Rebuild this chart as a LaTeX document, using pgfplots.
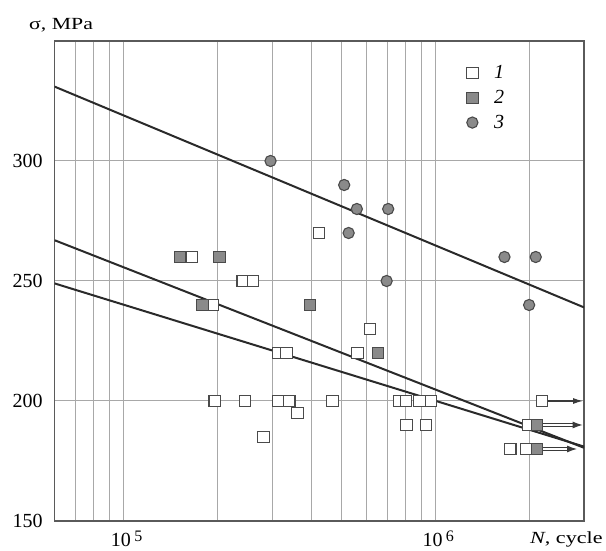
\documentclass[border=0pt]{standalone}
\usepackage{pgfplots}
\pgfplotsset{compat=1.18}
\usepackage{fontspec}
\setmainfont{Liberation Serif}
\usepackage{graphicx}
\usetikzlibrary{arrows.meta}
\definecolor{mk}{HTML}{8A8A8A}
\definecolor{mkedge}{HTML}{4A4A4A}
\definecolor{gridc}{HTML}{A8A8A8}
\definecolor{framec}{HTML}{5A5A5A}
\definecolor{linec}{HTML}{2A2A2A}
\definecolor{arrc}{HTML}{3A3A3A}

\begin{document}
\begin{tikzpicture}
\begin{axis}[
  xmode=log, scale only axis, width=529.5pt, height=480pt,
  xmin=6e4, xmax=3e6, ymin=150, ymax=350,
  axis line style={framec, line width=1.3pt},
  xtick={1e5,1e6},
  xticklabels={10\,\raisebox{4.5pt}{\fontsize{16}{16}\selectfont 5}, 10\,\raisebox{4.5pt}{\fontsize{16}{16}\selectfont 6}},
  minor xtick={7e4,8e4,9e4,2e5,3e5,4e5,5e5,6e5,7e5,8e5,9e5,2e6},
  ytick={150,200,250,300}, yticklabels={150,200,250,300},
  xmajorgrids, xminorgrids, ymajorgrids,
  major grid style={gridc, line width=1pt},
  minor grid style={gridc, line width=1pt},
  major tick length=0pt, minor tick length=0pt,
  tick label style={font=\fontsize{20}{22}\selectfont},
  yticklabel style={inner sep=0pt, xshift=-11.8pt},
  xticklabel style={inner sep=0pt, yshift=-10pt, xshift=3pt},
  legend style={at={(rel axis cs:0.778,0.953)}, anchor=north west, draw=none, fill=none,
    font=\fontsize{20}{22}\selectfont\itshape, row sep=6pt, inner sep=0pt,
    /tikz/every odd column/.append style={column sep=14pt}},
  legend cell align=left,
]
% regression lines
\addplot[linec, line width=2pt, forget plot] coordinates {(6e4,331) (3e6,239)};
\addplot[linec, line width=2pt, forget plot] coordinates {(6e4,267) (3e6,180.5)};
\addplot[linec, line width=2pt, forget plot] coordinates {(6e4,249) (3e6,181)};
% run-out arrows
\addplot[arrc, line width=1.3pt, -{Latex[length=10pt,width=6pt]}, forget plot] coordinates {(2.2e6,200) (2.98e6,200)};
\addplot[arrc, line width=1.1pt, double=white, double distance=2.4pt, -{Latex[length=10pt,width=7pt]}, forget plot] coordinates {(2.12e6,190) (2.97e6,190)};
\addplot[arrc, line width=1.1pt, double=white, double distance=2.4pt, -{Latex[length=10pt,width=7pt]}, forget plot] coordinates {(2.12e6,180) (2.85e6,180)};
% series 1
\addplot[only marks, mark=square*, mark size=5.7pt, mark options={fill=white, draw=mkedge, line width=1.1pt}] coordinates {
(1.65e5,260) (2.41e5,250) (2.60e5,250) (1.93e5,240) (3.13e5,220) (3.33e5,220)
(1.96e5,200) (2.45e5,200) (3.14e5,200) (3.40e5,200) (3.61e5,195) (2.81e5,185)
(4.24e5,270) (6.17e5,230) (5.63e5,220) (4.68e5,200) (7.65e5,200) (8.05e5,200)
(8.89e5,200) (9.68e5,200) (8.09e5,190) (9.33e5,190) (2.20e6,200) (1.98e6,190)
(1.74e6,180) (1.96e6,180)
};
\addlegendentry{1}
% series 2
\addplot[only marks, mark=square*, mark size=5.7pt, mark options={fill=mk, draw=mkedge, line width=1.1pt}] coordinates {
(1.52e5,260) (2.03e5,260) (1.79e5,240) (3.96e5,240) (6.56e5,220) (2.12e6,190) (2.12e6,180)
};
\addlegendentry{2}
% series 3
\addplot[only marks, mark=*, mark size=5.6pt, mark options={fill=mk, draw=mkedge, line width=1.1pt}] coordinates {
(2.96e5,300) (5.10e5,290) (5.60e5,280) (7.06e5,280) (5.27e5,270) (1.667e6,260)
(2.10e6,260) (6.98e5,250) (2.0e6,240)
};
\addlegendentry{3}
\end{axis}
\node[anchor=base west, inner sep=0pt] at ([xshift=-25.5pt,yshift=11pt]current axis.north west)
  {\scalebox{1.28}[1]{\fontsize{17}{17}\selectfont σ, MPa}};
\node[anchor=base west, inner sep=0pt] at ([xshift=-54pt,yshift=-23pt]current axis.south east)
  {\scalebox{1.3}[1]{\fontsize{17}{17}\selectfont\textit{N}, cycle}};
\pgfresetboundingbox
\path[use as bounding box] ([xshift=-54.5pt,yshift=-30pt]current axis.south west) rectangle ([xshift=22pt,yshift=41pt]current axis.north east);
\end{tikzpicture}
\end{document}
